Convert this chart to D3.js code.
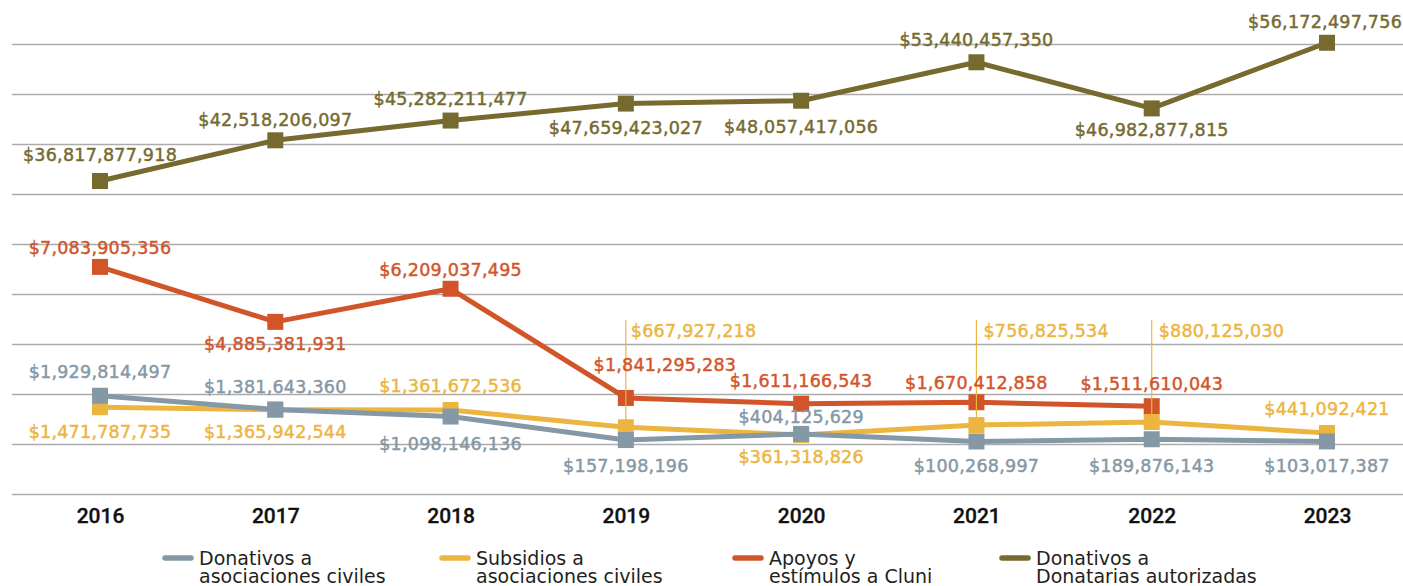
<!DOCTYPE html>
<html><head><meta charset="utf-8">
<script src="https://cdn.jsdelivr.net/npm/d3@7"></script>
<style>
html,body{margin:0;padding:0;background:#fff;}
svg{display:block;}
</style></head>
<body>
<svg id="chart" width="1403" height="586"></svg>
<script>
// ---- data ----
const years = ["2016","2017","2018","2019","2020","2021","2022","2023"];
const donativosAsociaciones = [1929814497, 1381643360, 1098146136, 157198196, 404125629, 100268997, 189876143, 103017387];
const subsidiosAsociaciones = [1471787735, 1365942544, 1361672536, 667927218, 361318826, 756825534, 880125030, 441092421];
const apoyosCluni = [7083905356, 4885381931, 6209037495, 1841295283, 1611166543, 1670412858, 1511610043, null];
const donativosDonatarias = [36817877918, 42518206097, 45282211477, 47659423027, 48057417056, 53440457350, 46982877815, 56172497756];
const seriesNames = [
  ["Donativos a", "asociaciones civiles"],
  ["Subsidios a", "asociaciones civiles"],
  ["Apoyos y", "estímulos a Cluni"],
  ["Donativos a", "Donatarias autorizadas"]
];
const primaryDomain = [-2e9, 16e9];
const secondaryDomain = [-7e9, 56e9];

// ---- label placement (layout only) ----
const placeGray   = [[0,-18],[0,-16],[0,33],[0,32],[0,-11],[0,31],[0,33],[0,31]];
const placeYellow = [[0,31],[0,28],[0,-18],[5,-90,"L"],[0,28],[7,-88,"L"],[7,-85,"L"],[0,-18]];
const placeRed    = [[0,-13],[0,28],[0,-13],[39,-27],[0,-17],[0,-13],[0,-16],null];
const placeOlive  = [[0,-20],[0,-14],[0,-16],[0,30],[0,32],[0,-16],[0,28],[-2,-15]];

const colors = {gray:"#8598a5", yellow:"#ecb53f", red:"#d2552a", olive:"#766a2f"};

const svg = d3.select("#chart");
const W = 1403;
const x = d3.scalePoint().domain(years).range([100, 1327]);
const yL = d3.scaleLinear().domain(primaryDomain).range([494, 44]);
const yR = d3.scaleLinear().domain(secondaryDomain).range([494, 44]);

// gridlines
const grid = svg.append("g").attr("transform","translate(12,0)")
  .call(d3.axisLeft(yL).ticks(9).tickSize(-(W-12)).tickFormat(""));
grid.select(".domain").remove();
grid.selectAll("line").attr("stroke","#ababab").attr("stroke-width",1.3);

// x axis
const xa = svg.append("g").attr("transform","translate(0,494)")
  .call(d3.axisBottom(x).tickSize(0).tickPadding(14));
xa.select(".domain").remove();
xa.selectAll("text").attr("font-family","Roboto, 'Liberation Sans', sans-serif")
  .attr("font-weight",500).attr("font-size",21).attr("fill","#111")
  .attr("stroke","#111").attr("stroke-width",0.3);

const series = [
  {vals: apoyosCluni, y: yL, c: colors.red, place: placeRed},
  {vals: subsidiosAsociaciones, y: yL, c: colors.yellow, place: placeYellow},
  {vals: donativosAsociaciones, y: yL, c: colors.gray, place: placeGray},
  {vals: donativosDonatarias, y: yR, c: colors.olive, place: placeOlive}
];

const fmt = v => "$" + d3.format(",")(v);

series.forEach(s => {
  const pts = years.map((yr,i)=>({yr, v:s.vals[i], i})).filter(d=>d.v!=null);
  const line = d3.line().x(d=>x(d.yr)).y(d=>s.y(d.v));
  svg.append("path").datum(pts).attr("d", line)
    .attr("fill","none").attr("stroke", s.c).attr("stroke-width",5).attr("stroke-linejoin","round");
  svg.append("g").selectAll("rect").data(pts).join("rect")
    .attr("x", d=>x(d.yr)-8).attr("y", d=>s.y(d.v)-8)
    .attr("width",16).attr("height",16).attr("fill", s.c);
});

// leader lines
series.forEach(s => {
  years.forEach((yr, i) => {
    const v = s.vals[i], p = s.place[i];
    if (v == null || !p || p[2] !== "L") return;
    const px = x(yr), py = s.y(v), by = py + p[1];
    svg.append("line").attr("x1", px).attr("x2", px)
      .attr("y1", by - 17).attr("y2", py)
      .attr("stroke", s.c).attr("stroke-width", 1.2);
  });
});
// labels
series.forEach(s => {
  const pts = years.map((yr,i)=>({yr, v:s.vals[i], i})).filter(d=>d.v!=null && s.place[d.i]);
  svg.append("g").selectAll("text").data(pts).join("text")
    .attr("x", d => x(d.yr) + s.place[d.i][0])
    .attr("y", d => s.y(d.v) + s.place[d.i][1])
    .attr("text-anchor", d => s.place[d.i][2]==="L" ? "start" : "middle")
    .attr("font-family","'DejaVu Sans', sans-serif")
    .attr("font-size",17.5).attr("letter-spacing",0.25)
    .attr("fill", s.c).attr("stroke", s.c).attr("stroke-width",0.45)
    .text(d => fmt(d.v));
});

// legend
const legendColors = [colors.gray, colors.yellow, colors.red, colors.olive];
const legendX = [163, 440, 733, 1000];
const lg = svg.append("g");
seriesNames.forEach((nm, i) => {
  const g = lg.append("g").attr("transform", `translate(${legendX[i]},0)`);
  g.append("line").attr("x1",2).attr("x2",28).attr("y1",558).attr("y2",558)
    .attr("stroke", legendColors[i]).attr("stroke-width",5.5).attr("stroke-linecap","round");
  const t = g.append("text")
    .attr("font-family","'DejaVu Sans', sans-serif").attr("font-size",19).attr("fill","#231f20");
  t.append("tspan").attr("x",36).attr("y",565).text(nm[0]);
  t.append("tspan").attr("x",36).attr("y",583).text(nm[1]);
});
</script>
</body></html>
